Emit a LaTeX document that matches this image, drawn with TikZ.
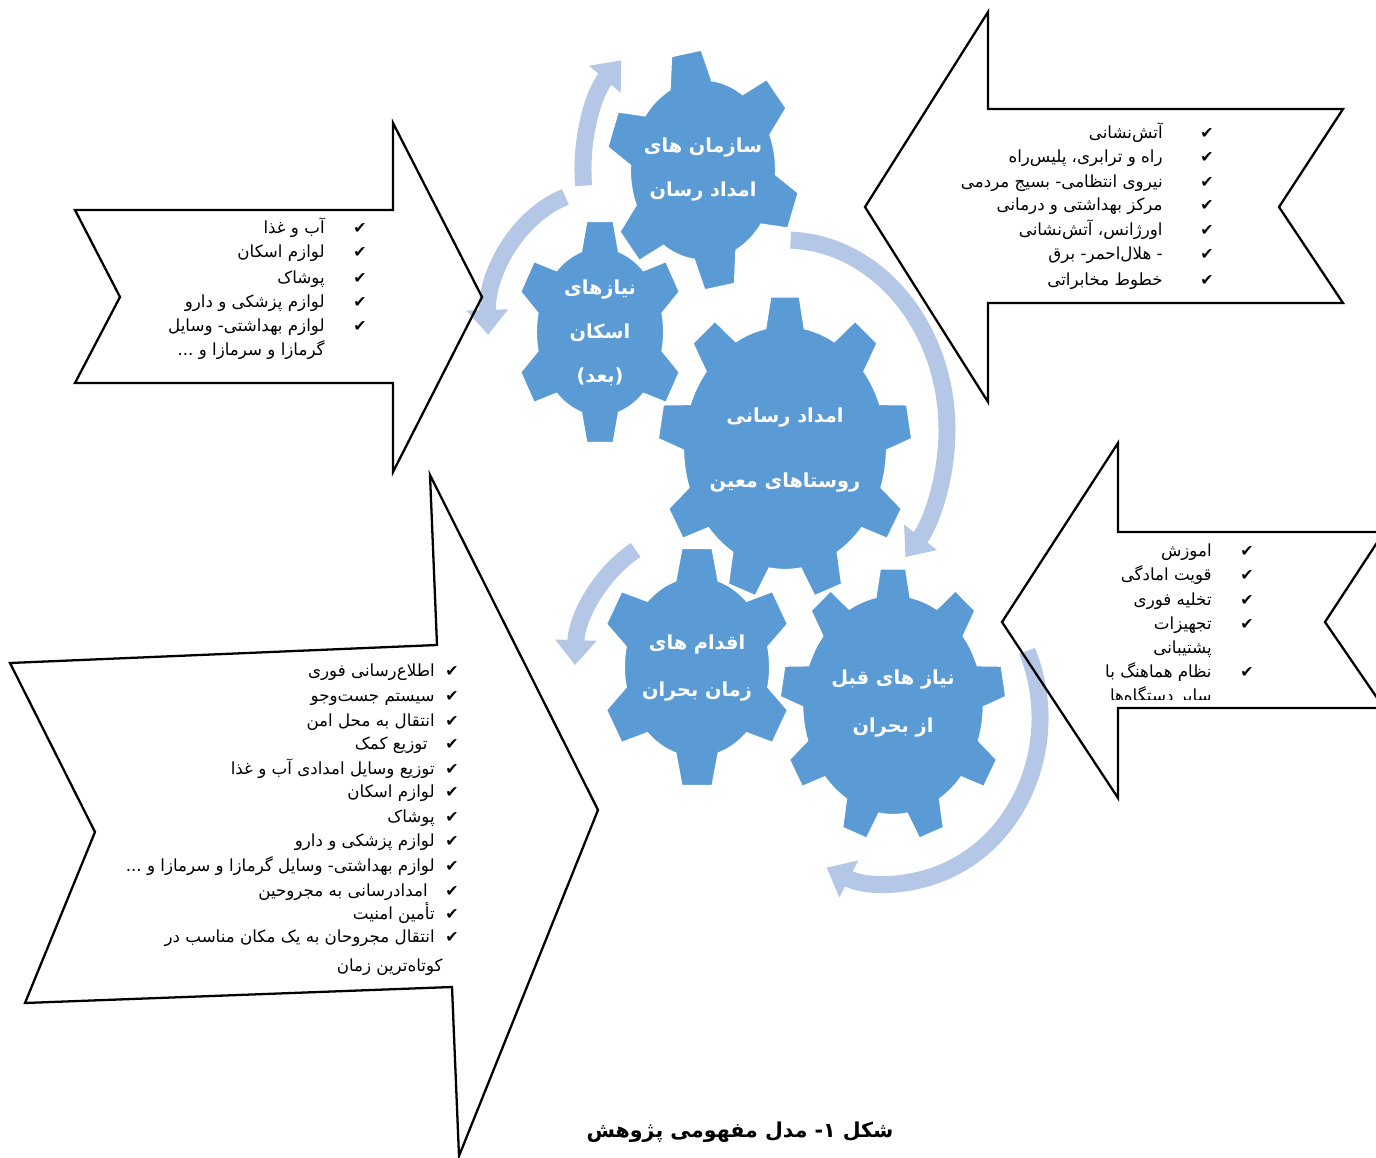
\documentclass[tikz,border=0pt]{standalone}
\usepackage{fontspec}
\usetikzlibrary{arrows.meta}
\TeXXeTstate=1
\newfontfamily\farsi[Script=Arabic]{DejaVu Sans}
\newfontfamily\tickfont{DejaVu Sans}
\definecolor{gearblue}{HTML}{5B9BD5}
\definecolor{arclight}{HTML}{B4C7E7}

\newcommand{\fatxt}[1]{\beginR #1\endR}

% gear: center, x radius, y radius, teeth, rotation, body radius, base half angle, top half angle
\newcommand{\drawgear}[8]{%
  \pgfmathsetmacro\gstep{360/#4}
  \pgfmathtruncatemacro\glast{#4-1}
  \begin{scope}[shift={#1}, xscale=#2, yscale=-#3]
    \filldraw[gearfill] ({#5-#7}:#6)
      \foreach \k in {0,...,\glast} {
        -- ({#5+\gstep*\k-#8}:1) -- ({#5+\gstep*\k+#8}:1) -- ({#5+\gstep*\k+#7}:#6)
        arc[start angle={#5+\gstep*\k+#7}, end angle={#5+\gstep*(\k+1)-#7}, radius=#6]
      } -- cycle;
  \end{scope}
}

% circular arrow round a gear: center, x radius, y radius, start angle, end angle
\newcommand{\cyclearc}[5]{%
  \begin{scope}[shift={#1}, yscale=-1]
    \draw[cyclearrow] (#4:#2 and #3) arc[start angle=#4, end angle=#5, x radius=#2, y radius=#3];
  \end{scope}
}

\tikzset{
  gearfill/.style={fill=gearblue, draw=white, line width=0.8pt},
  geartext/.style={text=white, inner sep=0pt, font=\farsi\bfseries\fontsize{11}{13}\selectfont},
  cyclearrow/.style={draw=arclight, line width=0.34cm, -{Triangle[width=0.8cm, length=0.5cm]}},
  blockarrow/.style={draw=black, line width=1.3pt, line join=miter},
  listtext/.style={anchor=base east, inner sep=0pt, font=\farsi\fontsize{9.5}{12}\selectfont},
  tick/.style={anchor=base, inner sep=0pt, font=\tickfont\fontsize{9}{11}\selectfont},
}

\begin{document}
\begin{tikzpicture}[x=0.02cm, y=-0.02cm]
\useasboundingbox (0,0) rectangle (1376,1158);

% light circular arrows
\cyclearc{(703,170)}{120}{150}{186}{133}
\cyclearc{(600,330)}{112}{140}{108}{182}
\cyclearc{(785,430)}{162}{190}{88}{-42}
\cyclearc{(890,718)}{150}{165}{24}{-115}
\cyclearc{(700,670)}{125}{140}{121}{178}

% the gears
\drawgear{(703,170)}{97}{120}{6}{100}{0.75}{17}{9}
\drawgear{(600,332)}{85}{112}{6}{90}{0.75}{17}{9}
\drawgear{(785,448)}{127}{152}{9}{90}{0.8}{11}{6.5}
\drawgear{(697,667)}{97}{120}{6}{90}{0.75}{17}{9}
\drawgear{(893,705)}{113}{137}{9}{90}{0.8}{11}{6.5}

% gear labels
\node[geartext] (sazman1) at (703,148) {\fatxt{سازمان های}};
\node[geartext] (sazman2) at (703,192) {\fatxt{امداد رسان}};
\node[geartext] (eskan1) at (600,290) {\fatxt{نیازهای}};
\node[geartext] (eskan2) at (600,333) {\fatxt{اسکان}};
\node[geartext] (eskan3) at (600,377) {\fatxt{(بعد)}};
\node[geartext] (emdad1) at (785,418) {\fatxt{امداد رسانی}};
\node[geartext] (emdad2) at (785,483) {\fatxt{روستاهای معین}};
\node[geartext] (eqdam1) at (697,645) {\fatxt{اقدام های}};
\node[geartext] (eqdam2) at (697,692) {\fatxt{زمان بحران}};
\node[geartext] (qabl1) at (893,680) {\fatxt{نیاز های قبل}};
\node[geartext] (qabl2) at (893,728) {\fatxt{از بحران}};

% block arrows
\draw[blockarrow] (865,207) -- (988,12) -- (988,109) -- (1343,109) -- (1279,207)
  -- (1343,303) -- (988,303) -- (988,402) -- cycle;
\draw[blockarrow] (75,210) -- (393,210) -- (393,123) -- (482,297) -- (393,472)
  -- (393,383) -- (75,383) -- (120,297) -- cycle;
\begin{scope}
\clip (0,0) rectangle (1376,1158);
\draw[blockarrow] (1002,622) -- (1118,443) -- (1118,532) -- (1384,532) -- (1325,622)
  -- (1384,708) -- (1118,708) -- (1118,798) -- cycle;
\end{scope}
\draw[blockarrow] (10,663) -- (437,645) -- (430,475) -- (598,810) -- (459,1156)
  -- (452,987) -- (25,1003) -- (95,832) -- cycle;

% top right list
\node[listtext] (orgA) at (1163,139) {\fatxt{آتش‌نشانی}};
\node[listtext] (orgB) at (1163,163) {\fatxt{راه و ترابری، پلیس‌راه}};
\node[listtext] (orgC) at (1163,188) {\fatxt{نیروی انتظامی- بسیج مردمی}};
\node[listtext] (orgD) at (1163,211) {\fatxt{مرکز بهداشتی و درمانی}};
\node[listtext] (orgE) at (1163,236) {\fatxt{اورژانس، آتش‌نشانی}};
\node[listtext] (orgF) at (1163,260) {\fatxt{- هلال‌احمر- برق}};
\node[listtext] (orgG) at (1163,286) {\fatxt{خطوط مخابراتی}};
\node[tick] (orgtickA) at (1207,139) {✔};
\node[tick] (orgtickB) at (1207,163) {✔};
\node[tick] (orgtickC) at (1207,188) {✔};
\node[tick] (orgtickD) at (1207,211) {✔};
\node[tick] (orgtickE) at (1207,236) {✔};
\node[tick] (orgtickF) at (1207,260) {✔};
\node[tick] (orgtickG) at (1207,286) {✔};

% left list
\node[listtext] (eskA) at (325,234) {\fatxt{آب و غذا}};
\node[listtext] (eskB) at (325,258) {\fatxt{لوازم اسکان}};
\node[listtext] (eskC) at (325,284) {\fatxt{پوشاک}};
\node[listtext] (eskD) at (325,308) {\fatxt{لوازم پزشکی و دارو}};
\node[listtext] (eskE) at (325,332) {\fatxt{لوازم بهداشتی- وسایل}};
\node[listtext] (eskF) at (325,356) {\fatxt{گرمازا و سرمازا و ...}};
\node[tick] (esktickA) at (360,234) {✔};
\node[tick] (esktickB) at (360,258) {✔};
\node[tick] (esktickC) at (360,284) {✔};
\node[tick] (esktickD) at (360,308) {✔};
\node[tick] (esktickE) at (360,332) {✔};

% middle right list, cut at the bottom of its box
\begin{scope}
\clip (1040,535) rectangle (1270,699);
\node[listtext] (qablA) at (1212,557) {\fatxt{اموزش}};
\node[listtext] (qablB) at (1212,581) {\fatxt{قویت امادگی}};
\node[listtext] (qablC) at (1212,605) {\fatxt{تخلیه فوری}};
\node[listtext] (qablD) at (1212,629) {\fatxt{تجهیزات}};
\node[listtext] (qablE) at (1212,653) {\fatxt{پشتیبانی}};
\node[listtext] (qablF) at (1212,677) {\fatxt{نظام هماهنگ با}};
\node[listtext] (qablG) at (1212,701) {\fatxt{سایر دستگاه‌ها}};
\node[tick] (qabltickA) at (1247,557) {✔};
\node[tick] (qabltickB) at (1247,581) {✔};
\node[tick] (qabltickC) at (1247,605) {✔};
\node[tick] (qabltickD) at (1247,629) {✔};
\node[tick] (qabltickF) at (1247,677) {✔};
\end{scope}

% bottom left list
\node[listtext] (eqA) at (435,676) {\fatxt{اطلاع‌رسانی فوری}};
\node[listtext] (eqB) at (435,701) {\fatxt{سیستم جست‌وجو}};
\node[listtext] (eqC) at (435,726) {\fatxt{انتقال به محل امن}};
\node[listtext] (eqD) at (428,749) {\fatxt{توزیع کمک}};
\node[listtext] (eqE) at (435,774) {\fatxt{توزیع وسایل امدادی آب و غذا}};
\node[listtext] (eqF) at (435,797) {\fatxt{لوازم اسکان}};
\node[listtext] (eqG) at (435,822) {\fatxt{پوشاک}};
\node[listtext] (eqH) at (435,846) {\fatxt{لوازم پزشکی و دارو}};
\node[listtext] (eqI) at (435,871) {\fatxt{لوازم بهداشتی- وسایل گرمازا و سرمازا و ...}};
\node[listtext] (eqJ) at (428,896) {\fatxt{امدادرسانی به مجروحین}};
\node[listtext] (eqK) at (435,919) {\fatxt{تأمین امنیت}};
\node[listtext] (eqL) at (435,942) {\fatxt{انتقال مجروحان به یک مکان مناسب در}};
\node[listtext] (eqM) at (443,971) {\fatxt{کوتاه‌ترین زمان}};
\node[tick] (eqtickA) at (452,676) {✔};
\node[tick] (eqtickB) at (452,701) {✔};
\node[tick] (eqtickC) at (452,726) {✔};
\node[tick] (eqtickD) at (452,749) {✔};
\node[tick] (eqtickE) at (452,774) {✔};
\node[tick] (eqtickF) at (452,797) {✔};
\node[tick] (eqtickG) at (452,822) {✔};
\node[tick] (eqtickH) at (452,846) {✔};
\node[tick] (eqtickI) at (452,871) {✔};
\node[tick] (eqtickJ) at (452,896) {✔};
\node[tick] (eqtickK) at (452,919) {✔};
\node[tick] (eqtickL) at (452,942) {✔};

% caption
\node[inner sep=0pt, font=\farsi\bfseries\fontsize{11.7}{14}\selectfont] (caption) at (740,1132) {\fatxt{شکل ۱- مدل مفهومی پژوهش}};
\end{tikzpicture}
\end{document}
